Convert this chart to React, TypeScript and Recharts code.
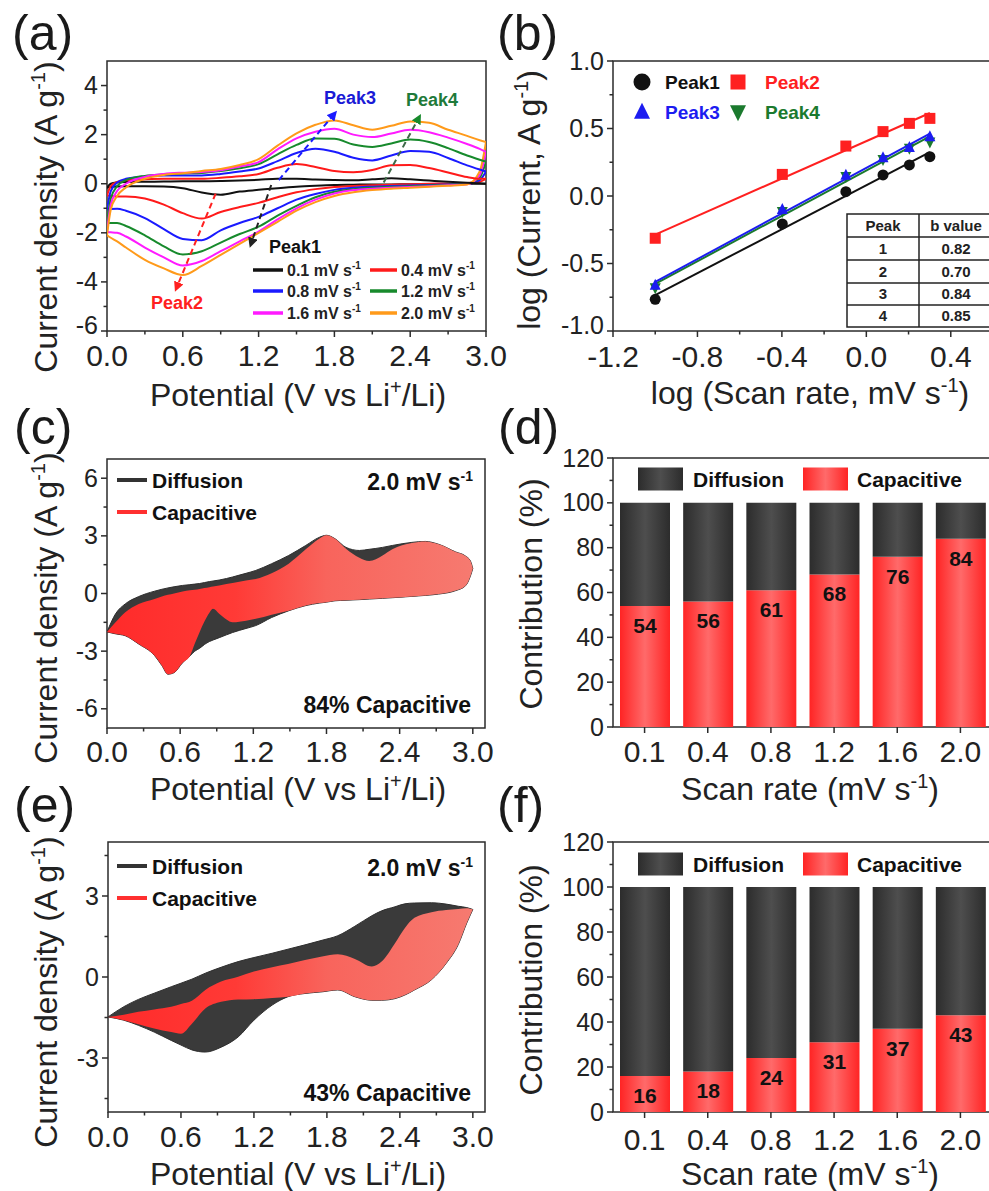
import React from "react";
import {
  Area,
  Bar,
  BarChart,
  ComposedChart,
  LabelList,
  Line,
  LineChart,
  Scatter,
  ScatterChart,
  XAxis,
  YAxis,
} from "recharts";

const FONT = '"Liberation Sans", Arial, Helvetica, sans-serif';
const AXIS = "#2b2b2b";
const TXT = "#222";

// ---------- (a) CV curves, lower (cathodic) and upper (anodic) branches ----------
const cvX = [0, 0.03, 0.08, 0.15, 0.3, 0.45, 0.6, 0.75, 0.9, 1.05, 1.2, 1.35, 1.5, 1.65, 1.8, 1.95, 2.1, 2.25, 2.4, 2.55, 2.7, 2.85, 2.95, 3.0];
const cv01Lower = [-0.16, -0.13, -0.11, -0.1, -0.1, -0.11, -0.18, -0.36, -0.45, -0.32, -0.25, -0.18, -0.12, -0.08, -0.05, -0.04, -0.03, -0.03, -0.02, -0.02, -0.01, -0.01, 0.0, 0.0];
const cv01Upper = [-0.16, 0.0, 0.05, 0.07, 0.08, 0.09, 0.1, 0.1, 0.11, 0.13, 0.16, 0.2, 0.2, 0.17, 0.15, 0.14, 0.18, 0.22, 0.18, 0.13, 0.08, 0.04, 0.02, 0.0];
const cv04Lower = [-0.48, -0.5, -0.52, -0.52, -0.6, -0.85, -1.2, -1.42, -1.15, -0.95, -0.78, -0.55, -0.35, -0.22, -0.13, -0.09, -0.06, -0.04, -0.02, 0.0, 0.01, 0.03, 0.08, 0.2];
const cv04Upper = [-0.48, -0.1, 0.07, 0.14, 0.18, 0.2, 0.2, 0.2, 0.24, 0.3, 0.4, 0.65, 0.8, 0.68, 0.52, 0.47, 0.56, 0.75, 0.76, 0.64, 0.46, 0.27, 0.2, 0.2];
const cv08Lower = [-1.05, -1.03, -1.02, -1.1, -1.4, -1.85, -2.25, -2.3, -1.9, -1.6, -1.35, -1.0, -0.65, -0.42, -0.25, -0.16, -0.12, -0.09, -0.07, -0.05, -0.03, 0.0, 0.15, 0.5];
const cv08Upper = [-1.05, -0.3, 0.05, 0.2, 0.3, 0.34, 0.34, 0.34, 0.4, 0.5, 0.62, 0.92, 1.25, 1.42, 1.3, 1.06, 0.95, 1.15, 1.33, 1.3, 1.05, 0.75, 0.58, 0.5];
const cv12Lower = [-1.6, -1.6, -1.6, -1.72, -2.1, -2.55, -2.88, -2.75, -2.4, -2.05, -1.75, -1.3, -0.9, -0.55, -0.33, -0.22, -0.16, -0.12, -0.1, -0.07, -0.04, 0.0, 0.25, 0.9];
const cv12Upper = [-1.6, -0.6, -0.1, 0.15, 0.32, 0.38, 0.42, 0.44, 0.52, 0.63, 0.8, 1.2, 1.58, 1.84, 1.83, 1.6, 1.5, 1.64, 1.8, 1.7, 1.45, 1.15, 0.98, 0.9];
const cv16Lower = [-1.97, -1.98, -2.0, -2.15, -2.6, -3.0, -3.33, -3.15, -2.75, -2.35, -1.95, -1.45, -1.0, -0.65, -0.4, -0.26, -0.2, -0.16, -0.13, -0.1, -0.06, -0.02, 0.35, 1.3];
const cv16Upper = [-1.97, -0.85, -0.3, 0.0, 0.28, 0.4, 0.45, 0.48, 0.55, 0.7, 0.88, 1.4, 1.85, 2.12, 2.24, 2.0, 1.9, 2.05, 2.2, 2.1, 1.88, 1.62, 1.42, 1.3];
const cv20Lower = [-2.1, -2.2, -2.35, -2.6, -3.1, -3.45, -3.72, -3.35, -2.9, -2.45, -2.0, -1.55, -1.1, -0.75, -0.5, -0.35, -0.26, -0.2, -0.16, -0.12, -0.08, -0.03, 0.5, 1.7];
const cv20Upper = [-2.1, -1.05, -0.5, -0.15, 0.2, 0.36, 0.43, 0.52, 0.6, 0.76, 1.0, 1.55, 2.05, 2.4, 2.58, 2.38, 2.2, 2.36, 2.54, 2.48, 2.2, 1.95, 1.77, 1.7];

const cvRates = ["0.1", "0.4", "0.8", "1.2", "1.6", "2.0"];
const cvColors = ["#111111", "#ff1a1a", "#1a1aff", "#178a2c", "#ff1aff", "#ff9a1a"];
const cvLowers = [cv01Lower, cv04Lower, cv08Lower, cv12Lower, cv16Lower, cv20Lower];
const cvUppers = [cv01Upper, cv04Upper, cv08Upper, cv12Upper, cv16Upper, cv20Upper];

// dashed guide arrows (start -> end, data units)
const arrowPeak1 = [{ x: 1.3, y: -0.05 }, { x: 1.14, y: -2.45 }];
const arrowPeak2 = [{ x: 0.86, y: -0.4 }, { x: 0.55, y: -4.25 }];
const arrowPeak3 = [{ x: 1.36, y: 0.15 }, { x: 1.8, y: 2.85 }];
const arrowPeak4 = [{ x: 2.19, y: 0.05 }, { x: 2.47, y: 2.7 }];

// ---------- (b) log(i) vs log(v) ----------
const logRate = [-1, -0.398, -0.097, 0.079, 0.204, 0.301];
const peak1Log = [-0.765, -0.207, 0.032, 0.156, 0.23, 0.291];
const peak2Log = [-0.313, 0.16, 0.37, 0.477, 0.538, 0.575];
const peak3Log = [-0.66, -0.1, 0.155, 0.284, 0.36, 0.44];
const peak4Log = [-0.68, -0.116, 0.143, 0.27, 0.353, 0.4];
const tablePeaks = ["1", "2", "3", "4"];
const tableB = ["0.82", "0.70", "0.84", "0.85"];

// ---------- (c) 84% capacitive split ----------
const cX = [0, 0.07, 0.15, 0.26, 0.39, 0.45, 0.5, 0.55, 0.62, 0.68, 0.72, 0.76, 0.8, 0.84, 0.87, 0.92, 0.98, 1.03, 1.14, 1.22, 1.35, 1.49, 1.63, 1.74, 1.8, 1.87, 1.96, 2.07, 2.15, 2.26, 2.34, 2.5, 2.61, 2.72, 2.86, 2.94, 2.98, 3.0];
const cTotalLow = [-2.0, -2.1, -2.2, -2.63, -3.23, -3.75, -4.2, -4.12, -3.6, -3.25, -3.0, -2.85, -2.65, -2.5, -2.42, -2.3, -2.15, -2.03, -1.82, -1.67, -1.25, -0.9, -0.63, -0.5, -0.45, -0.38, -0.35, -0.32, -0.29, -0.25, -0.22, -0.15, -0.1, -0.03, 0.15, 0.4, 0.9, 1.3];
const cTotalHigh = [-2.0, -1.06, -0.54, -0.16, 0.12, 0.22, 0.29, 0.35, 0.42, 0.46, 0.49, 0.52, 0.57, 0.62, 0.65, 0.7, 0.78, 0.86, 1.05, 1.2, 1.55, 1.98, 2.5, 2.92, 3.03, 2.85, 2.4, 2.24, 2.3, 2.4, 2.5, 2.66, 2.71, 2.56, 2.16, 1.95, 1.7, 1.3];
const cCapLow = [-2.0, -2.1, -2.2, -2.63, -3.23, -3.75, -4.2, -4.12, -3.6, -3.25, -2.6, -2.0, -1.45, -1.0, -0.8, -1.05, -1.35, -1.5, -1.42, -1.32, -1.1, -0.9, -0.63, -0.5, -0.45, -0.38, -0.35, -0.32, -0.29, -0.25, -0.22, -0.15, -0.1, -0.03, 0.15, 0.4, 0.9, 1.3];
const cCapHigh = [-2.0, -1.5, -0.97, -0.54, -0.28, -0.15, -0.07, 0.0, 0.1, 0.17, 0.2, 0.24, 0.28, 0.33, 0.36, 0.42, 0.5, 0.55, 0.68, 0.75, 1.05, 1.55, 2.3, 2.85, 3.03, 2.85, 2.33, 1.86, 1.69, 1.98, 2.3, 2.63, 2.71, 2.56, 2.16, 1.95, 1.7, 1.3];

// ---------- (e) 43% capacitive split ----------
const eX = [0, 0.13, 0.25, 0.38, 0.52, 0.6, 0.69, 0.8, 0.93, 1.07, 1.2, 1.35, 1.48, 1.62, 1.76, 1.89, 2.03, 2.17, 2.25, 2.36, 2.44, 2.52, 2.66, 2.78, 2.88, 2.95, 3.0];
const eTotalLow = [-1.48, -1.6, -1.79, -2.04, -2.35, -2.52, -2.7, -2.78, -2.6, -2.22, -1.6, -1.04, -0.73, -0.61, -0.55, -0.48, -0.73, -0.86, -0.86, -0.8, -0.67, -0.48, -0.1, 0.5, 1.2, 2.0, 2.5];
const eTotalHigh = [-1.48, -1.1, -0.83, -0.6, -0.36, -0.23, -0.08, 0.14, 0.36, 0.57, 0.72, 0.88, 1.03, 1.19, 1.36, 1.53, 1.88, 2.27, 2.45, 2.6, 2.71, 2.74, 2.75, 2.7, 2.62, 2.57, 2.5];
const eCapLow = [-1.48, -1.6, -1.75, -1.91, -2.04, -2.1, -1.73, -1.17, -0.92, -0.83, -0.82, -0.78, -0.73, -0.61, -0.55, -0.48, -0.73, -0.86, -0.86, -0.8, -0.67, -0.48, -0.1, 0.5, 1.2, 2.0, 2.5];
const eCapHigh = [-1.48, -1.4, -1.29, -1.2, -1.1, -1.0, -0.88, -0.48, -0.17, 0.01, 0.2, 0.36, 0.48, 0.63, 0.76, 0.84, 0.67, 0.39, 0.57, 1.25, 1.81, 2.19, 2.4, 2.48, 2.52, 2.55, 2.5];

// ---------- (d), (f) contribution bars ----------
const scanRates = ["0.1", "0.4", "0.8", "1.2", "1.6", "2.0"];
const dCapacitive = [54, 56, 61, 68, 76, 84];
const dDiffusion = [46, 44, 39, 32, 24, 16];
const fCapacitive = [16, 18, 24, 31, 37, 43];
const fDiffusion = [84, 82, 76, 69, 63, 57];

// ---------- layout (chart boxes, page px) ----------
const PA = { left: 0, top: 0, w: 520, h: 420, yw: 107, mt: 61, mr: 34, xh: 89 };
const PB = { left: 500, top: 0, w: 493, h: 420, yw: 113, mt: 61, mr: 0, xh: 89 };
const PC = { left: 0, top: 390, w: 520, h: 420, yw: 107, mt: 69, mr: 35, xh: 82 };
const PD = { left: 500, top: 390, w: 492, h: 420, yw: 113, mt: 68, mr: 0, xh: 83 };
const PE = { left: 0, top: 770, w: 520, h: 421, yw: 108, mt: 72, mr: 35, xh: 79 };
const PF = { left: 500, top: 770, w: 492, h: 421, yw: 113, mt: 72, mr: 0, xh: 79 };

type Box = typeof PA;

const f1 = (v: number) => v.toFixed(1);
const fs = (v: any) => String(v);

function makeXTick(axis: number, dy: number, fmt: (v: any) => string, majors?: number[]) {
  return (p: any) => {
    const v = p.payload.value;
    const major = !majors || majors.some((m) => Math.abs(m - v) < 1e-6);
    return (
      <g>
        <line x1={p.x} x2={p.x} y1={axis} y2={axis + (major ? 6 : 3.5)} stroke={AXIS} strokeWidth={1.5} />
        {major && (
          <text x={p.x} y={axis + dy} textAnchor="middle" fontSize={30} fill={TXT}>
            {fmt(v)}
          </text>
        )}
      </g>
    );
  };
}

// liftMin: nudge the label of the lowest tick up so it clears the x tick label under it
function makeYTick(axis: number, fmt: (v: any) => string, majors?: number[], liftMin?: number) {
  return (p: any) => {
    const v = p.payload.value;
    const major = !majors || majors.some((m) => Math.abs(m - v) < 1e-6);
    const lift = liftMin !== undefined && majors && Math.abs(v - majors[0]) < 1e-6 ? liftMin : 0;
    return (
      <g>
        <line x1={axis - (major ? 6 : 3.5)} x2={axis} y1={p.y} y2={p.y} stroke={AXIS} strokeWidth={1.5} />
        {major && (
          <text x={axis - 9} y={p.y - lift} dy="0.34em" textAnchor="end" fontSize={25} fill={TXT}>
            {fmt(v)}
          </text>
        )}
      </g>
    );
  };
}

function SupText(props: {
  x: number;
  y: number;
  pre: string;
  sup: string;
  post?: string;
  size: number;
  anchor?: "start" | "middle" | "end";
  rotate?: boolean;
  bold?: boolean;
  fill?: string;
}) {
  const { x, y, pre, sup, post, size, anchor = "middle", rotate, bold, fill = TXT } = props;
  const shift = size * 0.38;
  return (
    <text
      x={x}
      y={y}
      fontSize={size}
      fontWeight={bold ? "bold" : "normal"}
      fill={fill}
      textAnchor={anchor}
      transform={rotate ? `rotate(-90 ${x} ${y})` : undefined}
    >
      {pre}
      <tspan dy={-shift} fontSize={Math.round(size * 0.62)}>
        {sup}
      </tspan>
      {post ? <tspan dy={shift}>{post}</tspan> : null}
    </text>
  );
}

function Frame({ L }: { L: Box }) {
  return (
    <rect
      x={L.yw}
      y={L.mt}
      width={L.w - L.yw - L.mr}
      height={L.h - L.mt - L.xh}
      fill="none"
      stroke={AXIS}
      strokeWidth={1.5}
    />
  );
}

function Arrow({ id, color }: { id: string; color: string }) {
  return (
    <marker id={id} viewBox="0 0 10 10" refX="6" refY="5" markerWidth="5" markerHeight="5" orient="auto">
      <path d="M0,0 L10,5 L0,10 z" fill={color} />
    </marker>
  );
}

function PanelA() {
  const L = PA;
  const ax = L.h - L.xh;
  const legend = [
    [0, 270, 253, 283, 287],
    [1, 270, 370, 397, 401],
    [2, 291, 253, 283, 287],
    [3, 291, 370, 397, 401],
    [4, 313, 253, 283, 287],
    [5, 313, 370, 397, 401],
  ];
  const arrows = [
    { d: arrowPeak2, c: "#ff2020", id: "arrA2" },
    { d: arrowPeak1, c: "#222222", id: "arrA1" },
    { d: arrowPeak3, c: "#1a1aff", id: "arrA3" },
    { d: arrowPeak4, c: "#3e6a48", id: "arrA4" },
  ];
  return (
    <LineChart width={L.w} height={L.h} margin={{ top: L.mt, right: L.mr, left: 0, bottom: 0 }}>
      <defs>
        {arrows.map((a) => (
          <Arrow key={a.id} id={a.id} color={a.id === "arrA4" ? "#178a2c" : a.c} />
        ))}
      </defs>
      <XAxis
        type="number"
        dataKey="x"
        domain={[0, 3]}
        allowDataOverflow
        ticks={[0, 0.3, 0.6, 0.9, 1.2, 1.5, 1.8, 2.1, 2.4, 2.7, 3.0]}
        interval={0}
        height={L.xh}
        axisLine={false}
        tickLine={false}
        tick={makeXTick(ax, 35, f1, [0, 0.6, 1.2, 1.8, 2.4, 3.0])}
      />
      <YAxis
        type="number"
        domain={[-6, 5]}
        allowDataOverflow
        ticks={[-6, -5, -4, -3, -2, -1, 0, 1, 2, 3, 4]}
        interval={0}
        width={L.yw}
        axisLine={false}
        tickLine={false}
        tick={makeYTick(L.yw, fs, [-6, -4, -2, 0, 2, 4], 6)}
      />
      {cvRates.map((r, i) => (
        <Line
          key={"lo" + r}
          data={cvX.map((x, j) => ({ x, y: cvLowers[i][j] }))}
          dataKey="y"
          type="monotone"
          stroke={cvColors[i]}
          strokeWidth={2}
          dot={false}
          activeDot={false}
          isAnimationActive={false}
        />
      ))}
      {cvRates.map((r, i) => (
        <Line
          key={"up" + r}
          data={cvX.map((x, j) => ({ x, y: cvUppers[i][j] }))}
          dataKey="y"
          type="monotone"
          stroke={cvColors[i]}
          strokeWidth={2}
          dot={false}
          activeDot={false}
          isAnimationActive={false}
        />
      ))}
      {arrows.map((a) => (
        <Line
          key={a.id + "l"}
          data={a.d}
          dataKey="y"
          type="linear"
          stroke={a.c}
          strokeWidth={2}
          strokeDasharray="6 4"
          markerEnd={`url(#${a.id})`}
          dot={false}
          activeDot={false}
          isAnimationActive={false}
        />
      ))}
      <Frame L={L} />
      <text x={350} y={104} textAnchor="middle" fontSize={18} fontWeight="bold" fill="#1a1ad6">Peak3</text>
      <text x={432} y={106} textAnchor="middle" fontSize={18} fontWeight="bold" fill="#1f7a3a">Peak4</text>
      <text x={177} y={309} textAnchor="middle" fontSize={18} fontWeight="bold" fill="#ff2020">Peak2</text>
      <text x={295} y={253} textAnchor="middle" fontSize={18} fontWeight="bold" fill="#111">Peak1</text>
      {legend.map(([i, y, x1, x2, tx]) => (
        <g key={"lg" + i}>
          <line x1={x1} x2={x2} y1={y} y2={y} stroke={cvColors[i]} strokeWidth={3.5} />
          <SupText x={tx} y={y + 5.5} pre={`${cvRates[i]} mV s`} sup="-1" size={16} anchor="start" bold />
        </g>
      ))}
      <SupText x={298} y={406} pre="Potential (V vs Li" sup="+" post="/Li)" size={32} />
      <SupText x={57} y={217} pre="Current density (A g" sup="-1" post=")" size={32} rotate />
    </LineChart>
  );
}

function marker(kind: string, color: string, s: number) {
  return (p: any) => {
    const { cx, cy } = p;
    if (kind === "circle") return <circle cx={cx} cy={cy} r={s / 2} fill={color} />;
    if (kind === "square") return <rect x={cx - s / 2} y={cy - s / 2} width={s} height={s} fill={color} />;
    if (kind === "tri")
      return <path d={`M${cx},${cy - s * 0.58} L${cx + s / 2},${cy + s * 0.42} L${cx - s / 2},${cy + s * 0.42}Z`} fill={color} />;
    return <path d={`M${cx},${cy + s * 0.58} L${cx + s / 2},${cy - s * 0.42} L${cx - s / 2},${cy - s * 0.42}Z`} fill={color} />;
  };
}

function PanelB() {
  const L = PB;
  const ax = L.h - L.xh;
  const series = [
    { name: "Peak4", y: peak4Log, kind: "inv", c: "#1b7a2e" },
    { name: "Peak1", y: peak1Log, kind: "circle", c: "#111111" },
    { name: "Peak2", y: peak2Log, kind: "square", c: "#ff2020" },
    { name: "Peak3", y: peak3Log, kind: "tri", c: "#1c1cf0" },
  ];
  const rows = [237, 260, 283, 305, 327];
  return (
    <ScatterChart width={L.w} height={L.h} margin={{ top: L.mt, right: L.mr, left: 0, bottom: 0 }}>
      <XAxis
        type="number"
        dataKey="x"
        domain={[-1.2, 0.6]}
        allowDataOverflow
        ticks={[-1.2, -1.0, -0.8, -0.6, -0.4, -0.2, 0, 0.2, 0.4]}
        interval={0}
        height={L.xh}
        axisLine={false}
        tickLine={false}
        tick={makeXTick(ax, 36, f1, [-1.2, -0.8, -0.4, 0, 0.4])}
      />
      <YAxis
        type="number"
        dataKey="y"
        domain={[-1, 1]}
        allowDataOverflow
        ticks={[-1, -0.75, -0.5, -0.25, 0, 0.25, 0.5, 0.75, 1]}
        interval={0}
        width={L.yw}
        axisLine={false}
        tickLine={false}
        tick={makeYTick(L.yw, f1, [-1, -0.5, 0, 0.5, 1], 6)}
      />
      {series.map((s) => (
        <Scatter
          key={s.name}
          name={s.name}
          data={logRate.map((x, i) => ({ x, y: s.y[i] }))}
          shape={marker(s.kind, s.c, 11)}
          line={{ stroke: s.c, strokeWidth: 2, fill: "none" }}
          lineType="fitting"
          isAnimationActive={false}
        />
      ))}
      <Frame L={L} />
      {marker("circle", "#111", 17)({ cx: 142, cy: 82 })}
      <text x={165} y={88.5} fontSize={19} fontWeight="bold" fill="#111">Peak1</text>
      {marker("square", "#ff2020", 15)({ cx: 238, cy: 82 })}
      <text x={265} y={88.5} fontSize={19} fontWeight="bold" fill="#ff2020">Peak2</text>
      {marker("tri", "#1c1cf0", 16)({ cx: 142, cy: 112 })}
      <text x={165} y={118.5} fontSize={19} fontWeight="bold" fill="#1c1cf0">Peak3</text>
      {marker("inv", "#1b7a2e", 16)({ cx: 238, cy: 112 })}
      <text x={265} y={118.5} fontSize={19} fontWeight="bold" fill="#1b7a2e">Peak4</text>
      <g>
        <rect x={347} y={214} width={160} height={113} fill="#fff" stroke="#222" strokeWidth={1.5} />
        {rows.slice(0, 4).map((y) => (
          <line key={"r" + y} x1={347} x2={507} y1={y} y2={y} stroke="#222" strokeWidth={1.5} />
        ))}
        <line x1={419} x2={419} y1={214} y2={327} stroke="#222" strokeWidth={1.5} />
        <text x={383} y={231} textAnchor="middle" fontSize={15} fontWeight="bold" fill="#222">Peak</text>
        <text x={456} y={231} textAnchor="middle" fontSize={15} fontWeight="bold" fill="#222">b value</text>
        {tablePeaks.map((p, i) => (
          <g key={"t" + p}>
            <text x={383} y={(rows[i] + rows[i + 1]) / 2 + 5} textAnchor="middle" fontSize={15} fontWeight="bold" fill="#222">{p}</text>
            <text x={456} y={(rows[i] + rows[i + 1]) / 2 + 5} textAnchor="middle" fontSize={15} fontWeight="bold" fill="#222">{tableB[i]}</text>
          </g>
        ))}
      </g>
      <SupText x={310} y={404} pre="log (Scan rate, mV s" sup="-1" post=")" size={32} />
      <SupText x={40} y={200} pre="log (Current, A g" sup="-1" post=")" size={32} rotate />
    </ScatterChart>
  );
}

function PanelSplit(props: {
  L: Box;
  id: string;
  xs: number[];
  totLow: number[];
  totHigh: number[];
  capLow: number[];
  capHigh: number[];
  yDomain: [number, number];
  yTicks: number[];
  yMajors: number[];
  pct: string;
  legendY: number;
  pctY: number;
  yLabelY: number;
  xLabelY: number;
  xdy: number;
}) {
  const { L, id, xs } = props;
  const ax = L.h - L.xh;
  const dark = xs.map((x, i) => ({ x, v: [props.totLow[i], props.totHigh[i]] }));
  const red = xs.map((x, i) => ({ x, v: [props.capLow[i], props.capHigh[i]] }));
  const ly = props.legendY;
  return (
    <ComposedChart width={L.w} height={L.h} margin={{ top: L.mt, right: L.mr, left: 0, bottom: 0 }}>
      <defs>
        <linearGradient id={id + "red"} x1="0" y1="0" x2="1" y2="0">
          <stop offset="0%" stopColor="#ff2a2a" />
          <stop offset="35%" stopColor="#ff3a36" />
          <stop offset="60%" stopColor="#f8645c" />
          <stop offset="100%" stopColor="#f67a70" />
        </linearGradient>
      </defs>
      <XAxis
        type="number"
        dataKey="x"
        domain={[0, 3.1]}
        allowDataOverflow
        ticks={[0, 0.3, 0.6, 0.9, 1.2, 1.5, 1.8, 2.1, 2.4, 2.7, 3.0]}
        interval={0}
        height={L.xh}
        axisLine={false}
        tickLine={false}
        tick={makeXTick(ax, props.xdy, f1, [0, 0.6, 1.2, 1.8, 2.4, 3.0])}
      />
      <YAxis
        type="number"
        domain={props.yDomain}
        allowDataOverflow
        ticks={props.yTicks}
        interval={0}
        width={L.yw}
        axisLine={false}
        tickLine={false}
        tick={makeYTick(L.yw, fs, props.yMajors)}
      />
      <Area
        data={dark}
        dataKey="v"
        type="monotone"
        fill="#3a3a3a"
        fillOpacity={1}
        stroke="#2e2e2e"
        strokeWidth={1}
        dot={false}
        activeDot={false}
        isAnimationActive={false}
      />
      <Area
        data={red}
        dataKey="v"
        type="monotone"
        fill={`url(#${id}red)`}
        fillOpacity={1}
        stroke="none"
        dot={false}
        activeDot={false}
        isAnimationActive={false}
      />
      <Frame L={L} />
      <line x1={117} x2={147} y1={ly} y2={ly} stroke="#333" strokeWidth={4} />
      <text x={152} y={ly + 8} fontSize={21} fontWeight="bold" fill="#111">Diffusion</text>
      <line x1={117} x2={147} y1={ly + 32} y2={ly + 32} stroke="#ff3030" strokeWidth={4} />
      <text x={152} y={ly + 40} fontSize={21} fontWeight="bold" fill="#111">Capacitive</text>
      <SupText x={473} y={ly + 10} pre="2.0 mV s" sup="-1" size={23} anchor="end" bold fill="#111" />
      <text x={471} y={props.pctY} textAnchor="end" fontSize={23} fontWeight="bold" fill="#111">{props.pct}</text>
      <SupText x={298} y={props.xLabelY} pre="Potential (V vs Li" sup="+" post="/Li)" size={32} />
      <SupText x={57} y={props.yLabelY} pre="Current density (A g" sup="-1" post=")" size={32} rotate />
    </ComposedChart>
  );
}

function PanelBars(props: {
  L: Box;
  id: string;
  cap: number[];
  dif: number[];
  legendY: number;
  yLabelY: number;
  xLabelY: number;
  xdy: number;
}) {
  const { L, id } = props;
  const ax = L.h - L.xh;
  const rows = scanRates.map((rate, i) => ({ rate, cap: props.cap[i], dif: props.dif[i] }));
  const ly = props.legendY;
  return (
    <BarChart width={L.w} height={L.h} data={rows} margin={{ top: L.mt, right: L.mr, left: 0, bottom: 0 }}>
      <defs>
        <linearGradient id={id + "dark"} x1="0" y1="0" x2="1" y2="0">
          <stop offset="0%" stopColor="#2c2c2c" />
          <stop offset="50%" stopColor="#4e4e4e" />
          <stop offset="100%" stopColor="#2c2c2c" />
        </linearGradient>
        <linearGradient id={id + "red"} x1="0" y1="0" x2="1" y2="0">
          <stop offset="0%" stopColor="#ff2424" />
          <stop offset="50%" stopColor="#ff6a6a" />
          <stop offset="100%" stopColor="#ff2424" />
        </linearGradient>
      </defs>
      <XAxis
        dataKey="rate"
        type="category"
        height={L.xh}
        axisLine={false}
        tickLine={false}
        interval={0}
        tick={makeXTick(ax, props.xdy, fs)}
      />
      <YAxis
        type="number"
        domain={[0, 120]}
        allowDataOverflow
        ticks={[0, 10, 20, 30, 40, 50, 60, 70, 80, 90, 100, 110, 120]}
        interval={0}
        width={L.yw}
        axisLine={false}
        tickLine={false}
        tick={makeYTick(L.yw, fs, [0, 20, 40, 60, 80, 100, 120])}
      />
      <Bar dataKey="cap" stackId="s" barSize={50} fill={`url(#${id}red)`} isAnimationActive={false}>
        <LabelList dataKey="cap" position="insideTop" offset={12} fill="#111" fontSize={21} fontWeight="bold" />
      </Bar>
      <Bar dataKey="dif" stackId="s" barSize={50} fill={`url(#${id}dark)`} isAnimationActive={false} />
      <Frame L={L} />
      <rect x={138} y={ly - 11.5} width={45} height={23} fill={`url(#${id}dark)`} />
      <text x={193} y={ly + 8} fontSize={21} fontWeight="bold" fill="#111">Diffusion</text>
      <rect x={303} y={ly - 11.5} width={45} height={23} fill={`url(#${id}red)`} />
      <text x={357} y={ly + 8} fontSize={21} fontWeight="bold" fill="#111">Capacitive</text>
      <SupText x={310} y={props.xLabelY} pre="Scan rate (mV s" sup="-1" post=")" size={32} />
      <text
        x={42}
        y={props.yLabelY}
        fontSize={32}
        fill={TXT}
        textAnchor="middle"
        transform={`rotate(-90 42 ${props.yLabelY})`}
      >
        Contribution (%)
      </text>
    </BarChart>
  );
}

const letters: [string, number, number][] = [
  ["(a)", 12, 8],
  ["(b)", 497, 8],
  ["(c)", 14, 402],
  ["(d)", 498, 402],
  ["(e)", 14, 780],
  ["(f)", 497, 780],
];

function Place({ L, children }: { L: Box; children: React.ReactNode }) {
  return <div style={{ position: "absolute", left: L.left, top: L.top }}>{children}</div>;
}

export default function App() {
  return (
    <div
      style={{
        position: "absolute",
        left: 0,
        top: 0,
        width: 989,
        height: 1191,
        overflow: "hidden",
        background: "#fff",
        fontFamily: FONT,
      }}
    >
      <Place L={PA}>
        <PanelA />
      </Place>
      <Place L={PB}>
        <PanelB />
      </Place>
      <Place L={PC}>
        <PanelSplit
          L={PC}
          id="c"
          xs={cX}
          totLow={cTotalLow}
          totHigh={cTotalHigh}
          capLow={cCapLow}
          capHigh={cCapHigh}
          yDomain={[-7, 7]}
          yTicks={[-6, -4.5, -3, -1.5, 0, 1.5, 3, 4.5, 6]}
          yMajors={[-6, -3, 0, 3, 6]}
          pct="84% Capacitive"
          legendY={90}
          pctY={323}
          yLabelY={218}
          xLabelY={410}
          xdy={34}
        />
      </Place>
      <Place L={PD}>
        <PanelBars L={PD} id="d" cap={dCapacitive} dif={dDiffusion} legendY={89} yLabelY={204} xLabelY={410} xdy={35} />
      </Place>
      <Place L={PE}>
        <PanelSplit
          L={PE}
          id="e"
          xs={eX}
          totLow={eTotalLow}
          totHigh={eTotalHigh}
          capLow={eCapLow}
          capHigh={eCapHigh}
          yDomain={[-5, 5]}
          yTicks={[-4.5, -3, -1.5, 0, 1.5, 3, 4.5]}
          yMajors={[-3, 0, 3]}
          pct="43% Capacitive"
          legendY={96}
          pctY={331}
          yLabelY={222}
          xLabelY={415}
          xdy={35}
        />
      </Place>
      <Place L={PF}>
        <PanelBars L={PF} id="f" cap={fCapacitive} dif={fDiffusion} legendY={94} yLabelY={210} xLabelY={415} xdy={38} />
      </Place>
      {letters.map(([t, x, y]) => (
        <div
          key={t}
          style={{
            position: "absolute",
            left: x,
            top: y,
            fontSize: 50,
            lineHeight: 1,
            color: "#1a1a1a",
            fontFamily: FONT,
          }}
        >
          {t}
        </div>
      ))}
    </div>
  );
}
